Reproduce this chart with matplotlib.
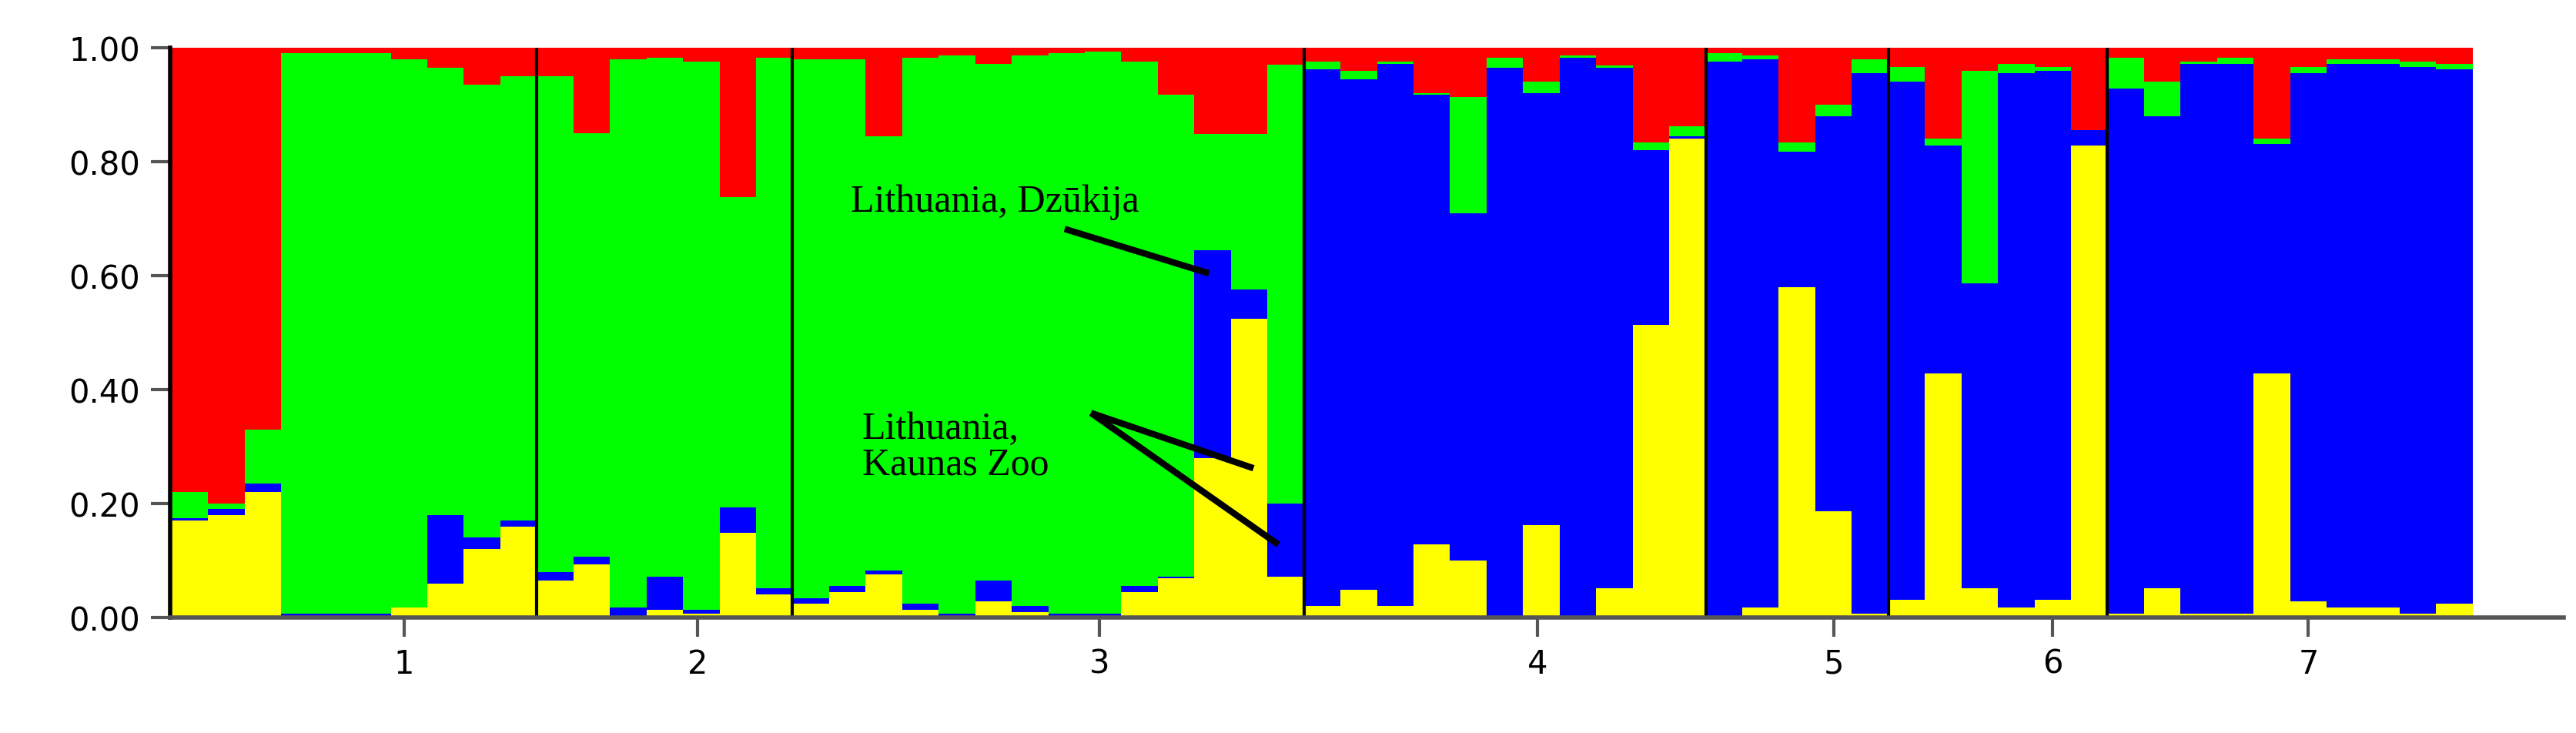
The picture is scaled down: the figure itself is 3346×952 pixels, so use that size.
import matplotlib
matplotlib.use("Agg")
import matplotlib.pyplot as plt
import numpy as np

# cumulative tops (bottom->top: yellow, blue, green; red fills to 1.0)
group_sizes = [10, 7, 14, 11, 5, 6, 10]
yellow_top = [0.17,0.18,0.22,0,0,0,0.017,0.06,0.12,0.16,
              0.065,0.093,0.003,0.014,0.007,0.148,0.041,
              0.024,0.045,0.076,0.014,0.003,0.028,0.01,0.003,0.003,0.045,0.069,0.28,0.524,0.072,
              0.02,0.048,0.02,0.128,0.1,0.003,0.162,0.003,0.052,0.514,0.841,
              0.003,0.017,0.58,0.186,0.007,
              0.031,0.428,0.052,0.017,0.031,0.828,
              0.007,0.052,0.007,0.007,0.428,0.028,0.017,0.017,0.007,0.024]
blue_top = [0.175,0.19,0.235,0.007,0.007,0.007,0.017,0.18,0.14,0.17,
            0.08,0.107,0.017,0.072,0.014,0.193,0.052,
            0.034,0.055,0.083,0.024,0.007,0.065,0.02,0.007,0.007,0.055,0.072,0.645,0.576,0.2,
            0.962,0.945,0.972,0.917,0.71,0.965,0.92,0.983,0.965,0.82,0.845,
            0.976,0.98,0.817,0.88,0.955,
            0.941,0.828,0.586,0.955,0.959,0.855,
            0.928,0.88,0.972,0.972,0.831,0.955,0.972,0.972,0.966,0.962]
green_top = [0.22,0.20,0.33,0.99,0.99,0.99,0.98,0.965,0.935,0.95,
             0.95,0.85,0.98,0.983,0.976,0.738,0.983,
             0.98,0.98,0.845,0.983,0.986,0.972,0.986,0.99,0.993,0.976,0.917,0.848,0.848,0.97,
             0.976,0.96,0.976,0.92,0.914,0.983,0.941,0.986,0.969,0.834,0.862,
             0.99,0.986,0.834,0.9,0.98,
             0.966,0.841,0.959,0.972,0.966,0.855,
             0.983,0.941,0.976,0.983,0.841,0.966,0.98,0.98,0.976,0.972]
tick_pos = [6.37, 14.4, 25.4, 37.4, 45.5, 51.5, 58.5]
tick_labels = ["1", "2", "3", "4", "5", "6", "7"]

yt = np.array(yellow_top); bt = np.array(blue_top); gt = np.array(green_top)
n = len(yt)
x = np.arange(n) + 0.5

fig = plt.figure(figsize=(33.46, 9.53), dpi=100)
ax = fig.add_axes([221/3346, 1-803/953, (3330-221)/3346, (803-63)/953])
kw = dict(width=1.0, edgecolor="none", linewidth=0)
ax.bar(x, yt, color="#FFFF00", **kw)
ax.bar(x, bt-yt, bottom=yt, color="#0000FF", **kw)
ax.bar(x, gt-bt, bottom=bt, color="#00FF00", **kw)
ax.bar(x, 1-gt, bottom=gt, color="#FF0000", **kw)

bounds = np.cumsum(group_sizes)[:-1]
for b in bounds:
    ax.axvline(b, color="black", lw=3)

ax.set_xlim(-0.04, n + (3330-3212)/47.4)
ax.set_ylim(0, 1.0)
ax.set_yticks([0, 0.2, 0.4, 0.6, 0.8, 1.0])
ax.set_yticklabels(["0.00", "0.20", "0.40", "0.60", "0.80", "1.00"])
ax.set_xticks(tick_pos)
ax.set_xticklabels(tick_labels)
ax.tick_params(axis="both", labelsize=30, length=18, width=3, color="#555555", pad=10)
for s in ["top", "right"]:
    ax.spines[s].set_visible(False)
ax.spines["left"].set_linewidth(4)
ax.spines["bottom"].set_linewidth(4)
ax.spines["bottom"].set_color("#555555")

tf = dict(family="Liberation Serif", fontsize=36, color="black")
ax.text(18.6, 0.73, "Lithuania, Dzūkija", va="center", ha="left", **tf)
ax.text(18.9, 0.30, "Lithuania,\nKaunas Zoo", va="center", ha="left", linespacing=1.0, **tf)
ax.plot([24.45, 28.4], [0.682, 0.604], color="black", lw=6, solid_capstyle="butt")
ax.plot([25.17, 29.62], [0.359, 0.262], color="black", lw=6, solid_capstyle="butt")
ax.plot([25.17, 30.3], [0.359, 0.128], color="black", lw=6, solid_capstyle="butt")

fig.savefig("out.png", dpi=100)
